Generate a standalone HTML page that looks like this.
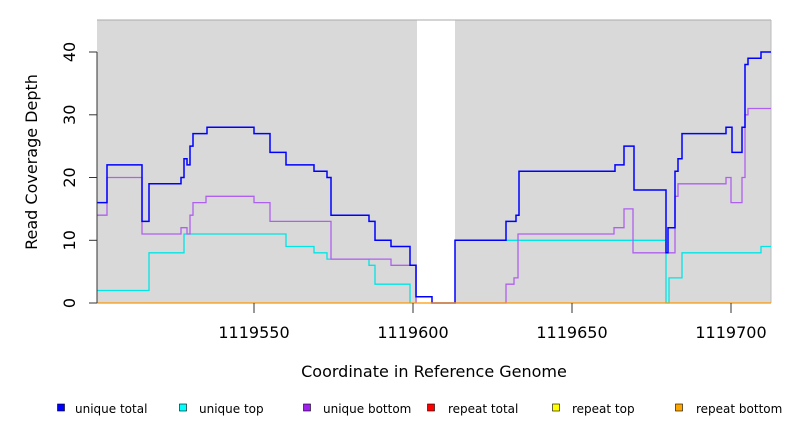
<!DOCTYPE html>
<html><head><meta charset="utf-8"><style>
html,body{margin:0;padding:0;background:#fff;}
svg{display:block;font-family:"DejaVu Sans","Liberation Sans",sans-serif;}
</style></head><body>
<svg width="792" height="432" viewBox="0 0 792 432" xmlns="http://www.w3.org/2000/svg">
<rect x="97" y="20" width="320" height="283" fill="#d9d9d9"/>
<rect x="455" y="20" width="316" height="283" fill="#d9d9d9"/>
<line x1="97" y1="20" x2="771" y2="20" stroke="#aaa" stroke-width="1"/>
<line x1="771" y1="20" x2="771" y2="303" stroke="#bbb" stroke-width="1"/>
<g fill="none" stroke-width="1.3">
<path stroke="#00e5e5" d="M97 290.5H149V252.8H184V234H286V246.5H314V252.8H327V259.1H369V265.3H375V284.2H410V303"/>
<path stroke="#00e5e5" d="M455 240.3H666V303H669V277.9H682V252.8H761V246.5H771"/>
<path stroke="#b060f0" d="M97 215.2H107V177.5H142V234H181V227.7H187V234H190V215.2H193V202.6H206V196.3H254V202.6H270V221.4H331V259.1H391V265.3H416V303"/>
<path stroke="#b060f0" d="M455 303H506V284.2H514V277.9H518V234H614V227.7H624V208.9H633V252.8H675V196.3H678V183.8H726V177.5H731V202.6H742V177.5H745V114.8H748V108.5H771"/>
<path stroke="#0000ff" stroke-width="1.5" d="M97 202.6H107V164.9H142V221.4H149V183.8H181V177.5H184V158.7H187V164.9H190V146.1H193V133.6H207V127.3H254V133.6H270V152.4H286V164.9H314V171.2H327V177.5H331V215.2H369V221.4H375V240.3H391V246.5H410V265.3H416V296.7H432V303H455V240.3H506V221.4H516V215.2H519V171.2H615V164.9H624V146.1H634V190H666V252.8H668V227.7H675V171.2H678V158.7H682V133.6H726V127.3H732V152.4H742V127.3H745V64.5H748V58.3H761V52H771"/>
<line x1="97" y1="303" x2="771" y2="303" stroke="#ff9900" stroke-width="1.3"/>
</g>
<g stroke="#333" stroke-width="1" fill="none">
<line x1="97" y1="52" x2="97" y2="303"/>
<line x1="89" y1="303" x2="97" y2="303"/><line x1="89" y1="240.3" x2="97" y2="240.3"/><line x1="89" y1="177.5" x2="97" y2="177.5"/><line x1="89" y1="114.8" x2="97" y2="114.8"/><line x1="89" y1="52" x2="97" y2="52"/>
<line x1="254" y1="303" x2="254" y2="313"/><line x1="413" y1="303" x2="413" y2="313"/><line x1="572" y1="303" x2="572" y2="313"/><line x1="731" y1="303" x2="731" y2="313"/>
</g>
<g font-size="16" fill="#000" text-anchor="middle">
<text transform="translate(75,303) rotate(-90)">0</text>
<text transform="translate(75,240.3) rotate(-90)">10</text>
<text transform="translate(75,177.5) rotate(-90)">20</text>
<text transform="translate(75,114.8) rotate(-90)">30</text>
<text transform="translate(75,52) rotate(-90)">40</text>
<text x="254" y="338">1119550</text>
<text x="413" y="338">1119600</text>
<text x="572" y="338">1119650</text>
<text x="731" y="338">1119700</text>
<text x="434" y="377">Coordinate in Reference Genome</text>
<text transform="translate(37,162) rotate(-90)">Read Coverage Depth</text>
</g>
<g font-size="12" fill="#000" stroke="#000" stroke-width="0.6">
<rect x="57.5" y="404" width="7" height="7" fill="#0000ff"/>
<rect x="179.5" y="404" width="7" height="7" fill="#00ffff"/>
<rect x="303.5" y="404" width="7" height="7" fill="#a020f0"/>
<rect x="427.5" y="404" width="7" height="7" fill="#ff0000"/>
<rect x="552.5" y="404" width="7" height="7" fill="#ffff00"/>
<rect x="675.5" y="404" width="7" height="7" fill="#ffa500"/>
</g>
<g font-size="12" fill="#000">
<text x="75" y="413">unique total</text>
<text x="199" y="413">unique top</text>
<text x="323" y="413">unique bottom</text>
<text x="448" y="413">repeat total</text>
<text x="572" y="413">repeat top</text>
<text x="696" y="413">repeat bottom</text>
</g>
</svg>
</body></html>
